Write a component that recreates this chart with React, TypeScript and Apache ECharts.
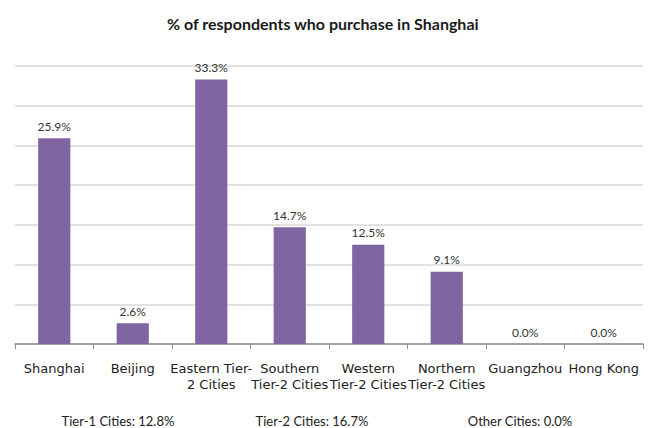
import React, { useEffect, useRef } from "react";
import * as echarts from "echarts";

const categories = [
  "Shanghai",
  "Beijing",
  "Eastern Tier-\n2 Cities",
  "Southern\nTier-2 Cities",
  "Western\nTier-2 Cities",
  "Northern\nTier-2 Cities",
  "Guangzhou",
  "Hong Kong",
];
const values = [25.9, 2.6, 33.3, 14.7, 12.5, 9.1, 0.0, 0.0];
const groupLabels = ["Tier-1 Cities: 12.8%", "Tier-2 Cities: 16.7%", "Other Cities: 0.0%"];
const groupCenters = [118, 312, 520];
const titleText = "% of respondents who purchase in Shanghai";

const FONT = "Lato, 'Open Sans', sans-serif";
const AXFONT = "'DejaVu Sans', sans-serif";

export default function App() {
  const ref = useRef<HTMLDivElement>(null);
  useEffect(() => {
    if (!ref.current) return;
    const chart = echarts.init(ref.current, null, { renderer: "svg" });
    chart.setOption({
      animation: false,
      backgroundColor: "#ffffff",
      title: {
        text: titleText,
        left: 162,
        top: 10,
        textStyle: { fontFamily: FONT, fontSize: 16, fontWeight: "bold", color: "#1a1a1a" },
      },
      grid: { left: 15, right: 13, top: 66, bottom: 84, containLabel: false },
      xAxis: {
        type: "category",
        data: categories,
        axisLine: { lineStyle: { color: "#8c8c8c", width: 1.5 } },
        axisTick: { show: true, alignWithLabel: false, length: 5, lineStyle: { color: "#8c8c8c" } },
        axisLabel: {
          interval: 0,
          margin: 16,
          fontFamily: AXFONT,
          fontSize: 13,
          color: "#222222",
          lineHeight: 16,
        },
      },
      yAxis: {
        type: "value",
        min: 0,
        max: 35,
        interval: 5,
        axisLabel: { show: false },
        axisLine: { show: false },
        axisTick: { show: false },
        splitLine: { lineStyle: { color: "#d9d9d9", width: 1.5 } },
      },
      series: [
        {
          type: "bar",
          data: values,
          barWidth: "41%",
          itemStyle: { color: "#8064A2" },
          label: {
            show: true,
            position: "top",
            distance: 6,
            formatter: (p: any) => p.value.toFixed(1) + "%",
            fontFamily: FONT,
            fontSize: 12,
            color: "#333333",
          },
        },
      ],
      graphic: groupLabels.map((t, i) => ({
        type: "text",
        x: groupCenters[i],
        y: 421,
        style: {
          text: t,
          fontFamily: FONT,
          fontSize: 13,
          fill: "#222222",
          textAlign: "center",
          textVerticalAlign: "middle",
        },
      })),
    });
    return () => chart.dispose();
  }, []);
  return (
    <div
      ref={ref}
      style={{ position: "fixed", left: 0, top: 0, width: 656, height: 428 }}
    />
  );
}
